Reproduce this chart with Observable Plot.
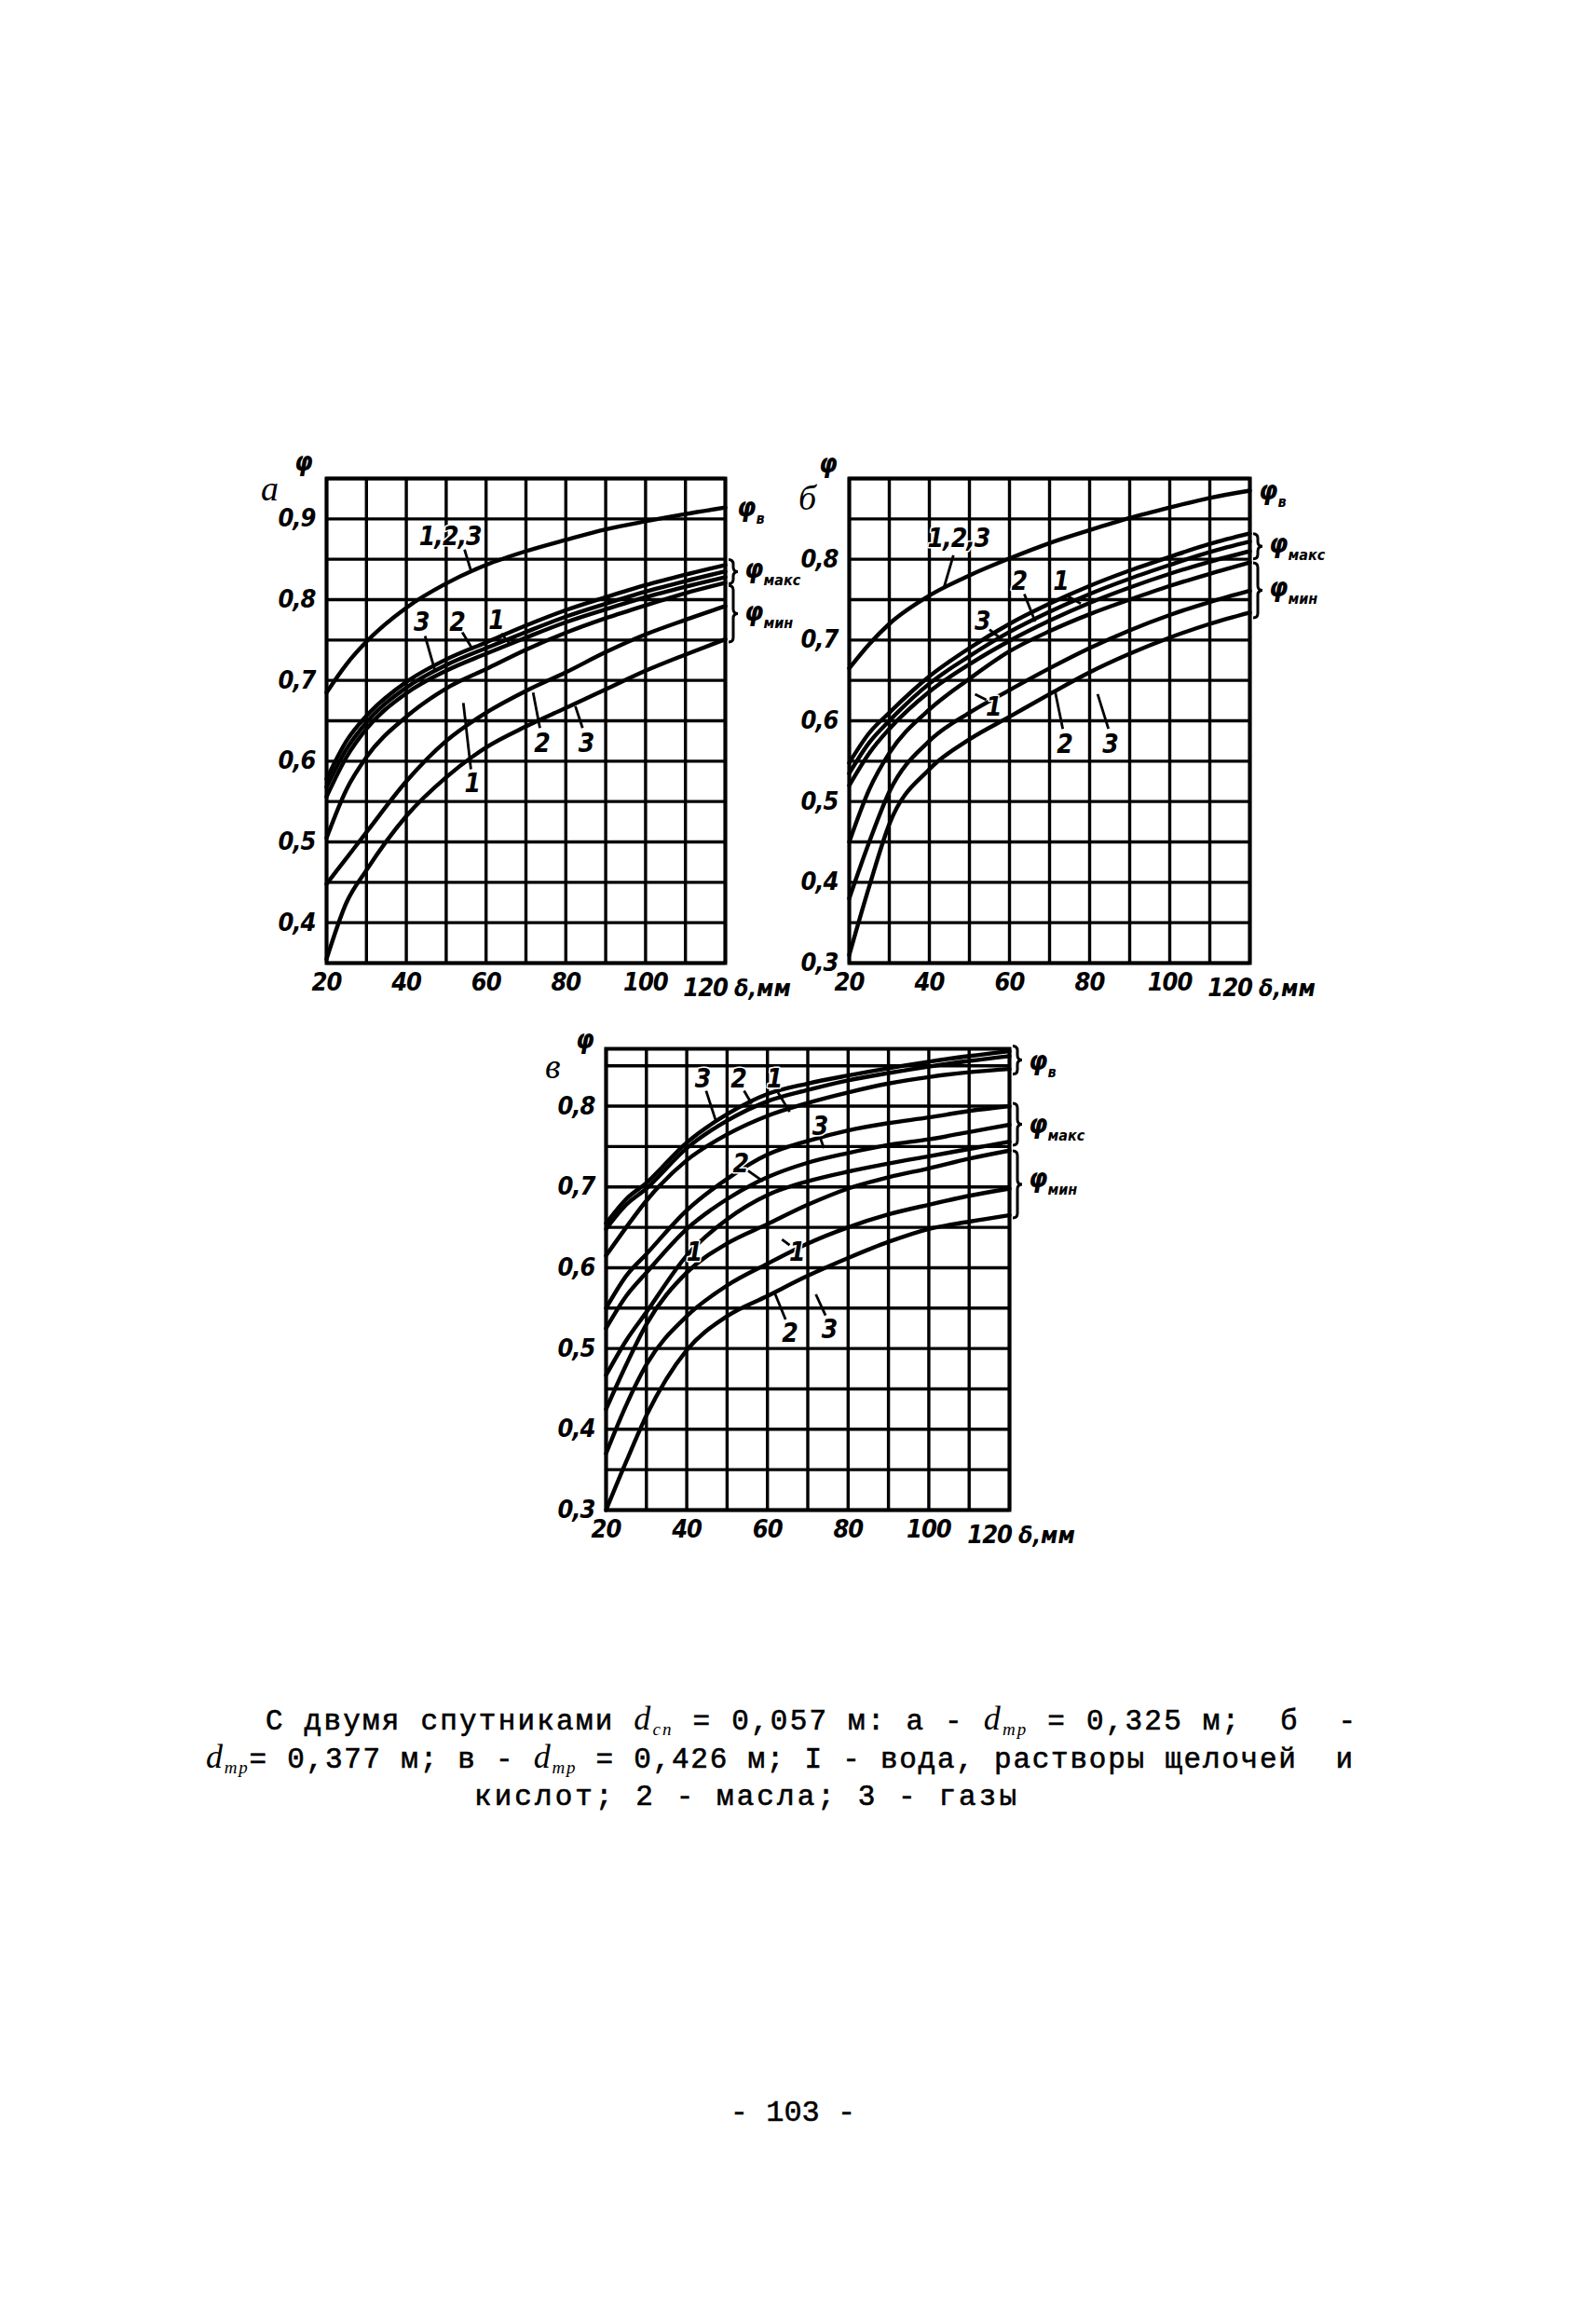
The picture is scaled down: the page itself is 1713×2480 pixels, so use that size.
<!DOCTYPE html>
<html lang="ru">
<head>
<meta charset="utf-8">
<script src="https://cdn.jsdelivr.net/npm/d3@7"></script>
<script src="https://cdn.jsdelivr.net/npm/@observablehq/plot@0.6"></script>
<style>
html,body{margin:0;padding:0;background:#fff;}
body{width:1713px;height:2480px;position:relative;overflow:hidden;}
.panel{position:absolute;}
#page{position:absolute;left:0;top:0;}
</style>
</head>
<body>
<svg id="page" width="1713" height="2480"></svg>
<div id="pa" class="panel"></div>
<div id="pb" class="panel"></div>
<div id="pv" class="panel"></div>
<script>
// ---------- shared axes ----------
const xs = [20, 25, 30, 40, 50, 60, 70, 80, 90, 100, 110, 120];
const xGridVals = [20, 30, 40, 50, 60, 70, 80, 90, 100, 110, 120];
const xTickVals = [20, 40, 60, 80, 100, 120];

// ---------- panel а (d_тр = 0,325 м) ----------
const aYGrid = [0.35, 0.40, 0.45, 0.50, 0.55, 0.60, 0.65, 0.70, 0.75, 0.80, 0.85, 0.90, 0.95];
const aYTicks = [0.4, 0.5, 0.6, 0.7, 0.8, 0.9];
const aPhiV = [0.685, 0.720, 0.748, 0.790, 0.820, 0.843, 0.860, 0.874, 0.887, 0.897, 0.906, 0.914];
const aMax1 = [0.578, 0.625, 0.656, 0.698, 0.726, 0.747, 0.768, 0.787, 0.803, 0.818, 0.831, 0.843];
const aMax2 = [0.568, 0.615, 0.648, 0.691, 0.719, 0.740, 0.760, 0.779, 0.795, 0.810, 0.823, 0.835];
const aMax3 = [0.556, 0.605, 0.640, 0.684, 0.712, 0.733, 0.753, 0.772, 0.788, 0.803, 0.816, 0.828];
const aMin1 = [0.505, 0.565, 0.605, 0.655, 0.690, 0.714, 0.738, 0.759, 0.777, 0.793, 0.808, 0.821];
const aMin2 = [0.448, 0.480, 0.512, 0.575, 0.625, 0.660, 0.687, 0.710, 0.735, 0.757, 0.775, 0.792];
const aMin3 = [0.355, 0.425, 0.465, 0.532, 0.580, 0.617, 0.643, 0.666, 0.689, 0.712, 0.732, 0.751];
const aLabelText = ["1,2,3", "3", "2", "1", "1", "2", "3"];
const aLabelX = [51, 43.8, 52.7, 62.5, 56.5, 74, 85.1];
const aLabelY = [0.878, 0.772, 0.772, 0.774, 0.572, 0.622, 0.622];
const aLeaders = [[54.6, 0.862, 56.2, 0.836], [44.7, 0.755, 47.2, 0.712], [54, 0.760, 56.7, 0.738],
                  [63.8, 0.758, 66, 0.745], [56.2, 0.590, 54.3, 0.672], [73.5, 0.641, 71.8, 0.685],
                  [84.2, 0.641, 82.4, 0.668]];
const aRightSub = ["в", "макс", "мин"];
const aRightY = [0.909, 0.832, 0.779];
const aBraces = [[0.849, 0.819], [0.817, 0.747]];

// ---------- panel б (d_тр = 0,377 м) ----------
const bYGrid = [0.30, 0.35, 0.40, 0.45, 0.50, 0.55, 0.60, 0.65, 0.70, 0.75, 0.80, 0.85, 0.90];
const bYTicks = [0.3, 0.4, 0.5, 0.6, 0.7, 0.8];
const bPhiV = [0.665, 0.695, 0.720, 0.755, 0.780, 0.801, 0.820, 0.836, 0.851, 0.864, 0.876, 0.885];
const bMax1 = [0.548, 0.585, 0.610, 0.655, 0.690, 0.720, 0.745, 0.767, 0.786, 0.803, 0.819, 0.832];
const bMax2 = [0.535, 0.573, 0.600, 0.646, 0.680, 0.710, 0.735, 0.757, 0.776, 0.793, 0.809, 0.822];
const bMax3 = [0.520, 0.560, 0.590, 0.636, 0.670, 0.699, 0.724, 0.746, 0.765, 0.782, 0.797, 0.810];
const bMin1 = [0.450, 0.515, 0.560, 0.614, 0.652, 0.686, 0.711, 0.732, 0.750, 0.767, 0.782, 0.796];
const bMin2 = [0.380, 0.450, 0.512, 0.575, 0.610, 0.638, 0.665, 0.690, 0.712, 0.731, 0.747, 0.761];
const bMin3 = [0.310, 0.395, 0.472, 0.540, 0.577, 0.605, 0.633, 0.660, 0.683, 0.703, 0.720, 0.734];
const bLabelText = ["1,2,3", "2", "1", "3", "1", "2", "3"];
const bLabelX = [47.3, 62.4, 72.8, 53.2, 56, 73.7, 85.1];
const bLabelY = [0.825, 0.773, 0.773, 0.723, 0.617, 0.571, 0.571];
const bLeaders = [[46, 0.805, 43.7, 0.766], [63.7, 0.757, 66.4, 0.723], [74.6, 0.754, 77.8, 0.745],
                  [55, 0.713, 57.3, 0.704], [54.2, 0.626, 51.4, 0.633], [73.3, 0.590, 71.4, 0.636],
                  [84.7, 0.590, 82, 0.633]];
const bRightSub = ["в", "макс", "мин"];
const bRightY = [0.879, 0.814, 0.759];
const bBraces = [[0.831, 0.800], [0.795, 0.727]];

// ---------- panel в (d_тр = 0,426 м) ----------
const vYGrid = [0.30, 0.35, 0.40, 0.45, 0.50, 0.55, 0.60, 0.65, 0.70, 0.75, 0.80, 0.85];
const vYTicks = [0.3, 0.4, 0.5, 0.6, 0.7, 0.8];
const vPhiV1 = [0.655, 0.685, 0.705, 0.755, 0.790, 0.815, 0.828, 0.838, 0.847, 0.855, 0.862, 0.868];
const vPhiV2 = [0.648, 0.678, 0.698, 0.748, 0.782, 0.806, 0.820, 0.832, 0.841, 0.849, 0.856, 0.862];
const vPhiV3 = [0.615, 0.650, 0.683, 0.733, 0.765, 0.788, 0.804, 0.817, 0.828, 0.836, 0.842, 0.846];
const vMax1 = [0.550, 0.590, 0.617, 0.671, 0.710, 0.740, 0.757, 0.770, 0.779, 0.786, 0.794, 0.800];
const vMax2 = [0.525, 0.565, 0.594, 0.648, 0.685, 0.712, 0.730, 0.742, 0.752, 0.759, 0.768, 0.777];
const vMax3 = [0.467, 0.510, 0.545, 0.615, 0.660, 0.690, 0.707, 0.719, 0.729, 0.738, 0.747, 0.756];
const vMin1 = [0.425, 0.480, 0.530, 0.594, 0.630, 0.654, 0.678, 0.698, 0.712, 0.723, 0.735, 0.745];
const vMin2 = [0.370, 0.430, 0.480, 0.540, 0.578, 0.605, 0.630, 0.650, 0.666, 0.678, 0.689, 0.698];
const vMin3 = [0.300, 0.360, 0.417, 0.498, 0.540, 0.565, 0.590, 0.612, 0.632, 0.648, 0.657, 0.665];
const vLabelText = ["3", "2", "1", "3", "2", "1", "1", "2", "3"];
const vLabelX = [43.9, 52.8, 61.7, 73, 53.3, 41.8, 67.3, 65.5, 75.3];
const vLabelY = [0.834, 0.834, 0.834, 0.775, 0.729, 0.619, 0.619, 0.518, 0.523];
const vLeaders = [[44.8, 0.819, 47.2, 0.782], [54.2, 0.819, 56.1, 0.803], [62.6, 0.817, 65.5, 0.793],
                  [73, 0.762, 74, 0.748], [55.2, 0.720, 58.9, 0.707], [65.5, 0.628, 63.6, 0.635],
                  [64.5, 0.536, 61.7, 0.570], [74.4, 0.541, 72, 0.567]];
const vRightSub = ["в", "макс", "мин"];
const vRightY = [0.850, 0.772, 0.705];
const vBraces = [[0.874, 0.839], [0.803, 0.751], [0.744, 0.661]];

// ---------- drawing ----------
const FONT = "'Liberation Sans Narrow','DejaVu Sans Condensed','Roboto Condensed','Arial Narrow',sans-serif";
const fmt = d => d.toFixed(1).replace(".", ",");
const LAB = 27;

function decor(cfg) {
  return (index, scales) => {
    const x = scales.x, y = scales.y;
    const g = d3.create("svg:g").attr("font-family", FONT).attr("font-weight", "bold")
      .attr("font-style", "italic").attr("fill", "#000").attr("letter-spacing", 0)
      .attr("text-anchor", "start");
    const x0 = x(20), x1 = x(120), yTop = y(cfg.yTop), yBot = y(cfg.yBot);
    g.append("text").attr("x", x0 + cfg.letter[1]).attr("y", yTop + cfg.letter[2])
      .attr("font-size", 38).attr("font-weight", "normal").attr("font-style", "italic")
      .attr("font-family", "'Liberation Serif','DejaVu Serif',serif")
      .text(cfg.letter[0]);
    g.append("text").attr("x", x0 + cfg.phi[0]).attr("y", yTop + cfg.phi[1])
      .attr("font-size", 28).text("φ");
    g.append("text").attr("x", x1 + 3).attr("y", yBot + 36).attr("font-size", LAB).attr("text-anchor", "end")
      .attr("letter-spacing", -1).text(String(xTickVals[xTickVals.length - 1]));
    g.append("text").attr("x", x1 + 10).attr("y", yBot + 36).attr("font-size", LAB - 2).text("δ,мм");
    for (const [a, b] of cfg.braces) {
      const Yt = y(a), Yb = y(b), m = (Yt + Yb) / 2, X = x1 + 4, w = 10, r = Math.min(5, (Yb - Yt) / 4);
      const xm = X + w / 2;
      g.append("path").attr("fill", "none").attr("stroke", "#000").attr("stroke-width", 3)
        .attr("d", `M${X},${Yt} Q${xm},${Yt} ${xm},${Yt + r} L${xm},${m - r} Q${xm},${m} ${X + w},${m}`
          + ` Q${xm},${m} ${xm},${m + r} L${xm},${Yb - r} Q${xm},${Yb} ${X},${Yb}`);
    }
    cfg.rightSub.forEach((s, i) => {
      const t = g.append("text").attr("x", x1 + (i === 0 ? cfg.firstDx : 21)).attr("y", y(cfg.rightY[i]) + 5)
        .attr("font-size", 29);
      t.append("tspan").text("φ");
      t.append("tspan").attr("dy", 8).attr("font-size", 16).text(s);
    });
    return g.node();
  };
}

function buildChart(el, left, top, pw, yDomain, yGrid, yTicks, series, labT, labX, labY, leaders, extra) {
  const ml = 90, mr = 140, mt = 40, mb = 55;
  const ph = Math.round((yDomain[1] - yDomain[0]) * 866.7);
  const table = series.flatMap((arr, k) => arr.map((v, i) => ({s: k, x: xs[i], y: v})));
  const labels = labT.map((t, i) => ({t, x: labX[i], y: labY[i]}));
  const plot = Plot.plot({
    width: ml + pw + mr, height: mt + ph + mb,
    marginLeft: ml, marginRight: mr, marginTop: mt, marginBottom: mb,
    x: {type: "linear", domain: [20, 120]},
    y: {type: "linear", domain: yDomain},
    style: {background: "transparent", fontFamily: FONT, overflow: "visible", color: "#000", letterSpacing: "-1px"},
    marks: [
      Plot.gridX(xGridVals, {stroke: "#000", strokeOpacity: 1, strokeWidth: 3.4}),
      Plot.gridY(yGrid, {stroke: "#000", strokeOpacity: 1, strokeWidth: 3.4}),
      Plot.frame({stroke: "#000", strokeWidth: 4}),
      Plot.line(table, {x: "x", y: "y", z: "s", curve: "monotone-x", stroke: "#000", strokeWidth: 4.4}),
      Plot.axisY(yTicks, {tickSize: 0, tickPadding: 12, tickFormat: fmt, label: null, fontSize: LAB,
        fontWeight: "bold", fontStyle: "italic", fill: "#000"}),
      Plot.axisX(xTickVals.slice(0, -1), {tickSize: 0, tickPadding: 10, label: null, fontSize: LAB,
        fontWeight: "bold", fontStyle: "italic", fill: "#000"}),
      Plot.link(leaders, {x1: d => d[0], y1: d => d[1], x2: d => d[2], y2: d => d[3],
        stroke: "#000", strokeWidth: 2.8}),
      Plot.text(labels, {x: "x", y: "y", text: "t", fontSize: 28, fontWeight: "bold", fontStyle: "italic",
        fill: "#000", stroke: "#fff", strokeWidth: 3, paintOrder: "stroke"}),
      decor(extra)
    ]
  });
  const host = document.getElementById(el);
  host.style.left = (left - ml) + "px";
  host.style.top = (top - mt) + "px";
  host.appendChild(plot);
}

buildChart("pa", 350, 513, 428, [0.35, 0.95], aYGrid, aYTicks,
  [aPhiV, aMax1, aMax2, aMax3, aMin1, aMin2, aMin3], aLabelText, aLabelX, aLabelY, aLeaders,
  {yTop: 0.95, yBot: 0.35, letter: ["а", -70, 24], phi: [-34, -8], braces: aBraces,
   rightSub: aRightSub, rightY: aRightY, firstDx: 13});

buildChart("pb", 911, 513, 430, [0.3, 0.9], bYGrid, bYTicks,
  [bPhiV, bMax1, bMax2, bMax3, bMin1, bMin2, bMin3], bLabelText, bLabelX, bLabelY, bLeaders,
  {yTop: 0.9, yBot: 0.3, letter: ["б", -54, 34], phi: [-32, -6], braces: bBraces,
   rightSub: bRightSub, rightY: bRightY, firstDx: 10});

buildChart("pv", 650, 1125, 433, [0.3, 0.871], vYGrid, vYTicks,
  [vPhiV1, vPhiV2, vPhiV3, vMax1, vMax2, vMax3, vMin1, vMin2, vMin3], vLabelText, vLabelX, vLabelY, vLeaders,
  {yTop: 0.871, yBot: 0.3, letter: ["в", -65, 32], phi: [-32, 0], braces: vBraces,
   rightSub: vRightSub, rightY: vRightY, firstDx: 21});

// ---------- caption and page number ----------
const captionLines = [
  {x: 285, y: 1856, len: 1170, parts: [["С двумя спутниками "], ["d", "i"], ["сп", "s"], [" = 0,057 м: а - "], ["d", "i"], ["тр", "s"], [" = 0,325 м;  б  -"]]},
  {x: 221, y: 1897, len: 1231, parts: [["d", "i"], ["тр", "s"], ["= 0,377 м; в - "], ["d", "i"], ["тр", "s"], [" = 0,426 м; I - вода, растворы щелочей  и"]]},
  {x: 509, y: 1937, len: 582, parts: [["кислот; 2 - масла; 3 - газы"]]}
];
const page = d3.select("#page");
const MONO = "'Liberation Mono','DejaVu Sans Mono',monospace";
for (const line of captionLines) {
  const t = page.append("text").attr("x", line.x).attr("y", line.y).attr("font-family", MONO)
    .attr("font-size", 31).attr("fill", "#000").attr("stroke", "#000").attr("stroke-width", 0.6)
    .attr("textLength", line.len).attr("lengthAdjust", "spacing")
    .style("white-space", "pre");
  let shift = 0;
  for (const [s, kind] of line.parts) {
    const sp = t.append("tspan").text(s);
    if (kind === "i") {
      sp.attr("font-style", "italic").attr("font-family", "'Liberation Serif','DejaVu Serif',serif")
        .attr("stroke-width", 0).attr("font-size", 36).attr("dy", -shift); shift = 0;
    } else if (kind === "s") {
      sp.attr("font-style", "italic").attr("font-family", "'Liberation Serif','DejaVu Serif',serif")
        .attr("stroke-width", 0).attr("font-size", 19).attr("dy", 6); shift = 6;
    } else {
      sp.attr("dy", -shift); shift = 0;
    }
  }
}
page.append("text").attr("x", 851).attr("y", 2276).attr("text-anchor", "middle").attr("font-family", MONO)
  .attr("font-size", 32).attr("fill", "#000").attr("stroke", "#000").attr("stroke-width", 0.5)
  .style("white-space", "pre").text("- 103 -");
</script>
</body>
</html>
